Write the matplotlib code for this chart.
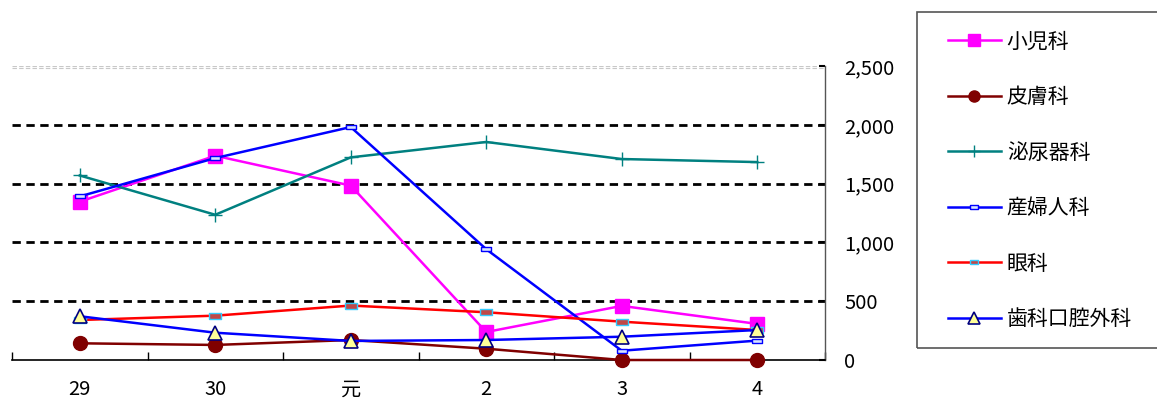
import numpy as np
import matplotlib
matplotlib.use("Agg")
import matplotlib.pyplot as plt
from matplotlib.patches import Rectangle
from matplotlib.ticker import FuncFormatter

plt.rcParams['font.family'] = ['Noto Sans CJK JP', 'DejaVu Sans']

years = ['29', '30', '元', '2', '3', '4']

shoni = [1346, 1737, 1483, 238, 460, 307]        # 小児科
hifu = [142, 128, 170, 96, 0, 0]                 # 皮膚科
hinyoki = [1569, 1235, 1723, 1854, 1709, 1683]   # 泌尿器科
sanfujin = [1391, 1717, 1981, 942, 79, 165]      # 産婦人科
ganka = [340, 377, 463, 406, 326, 255]           # 眼科
shika = [372, 232, 162, 170, 198, 255]           # 歯科口腔外科

x = np.arange(len(years))
rect = [(-1, -0.5), (1, -0.5), (1, 0.5), (-1, 0.5), (-1, -0.5)]

fig = plt.figure(figsize=(11.57, 4.03), dpi=100)
ax = fig.add_axes([12 / 1157, 43 / 403, 813 / 1157, 294 / 403])

common = dict(lw=1.8, clip_on=False, zorder=3)
lines = []
lines += ax.plot(x, shoni, color='#FF00FF', marker='s', ms=10.5,
                 label='小児科', **common)
lines += ax.plot(x, hifu, color='#800000', marker='o', ms=10,
                 label='皮膚科', **common)
lines += ax.plot(x, hinyoki, color='#008080', marker='+', ms=10,
                 mew=1.0, label='泌尿器科', **common)
lines += ax.plot(x, sanfujin, color='#0000FF', marker=rect, ms=7,
                 mfc='#d8e4ff', mec='#0000FF', mew=1.0, label='産婦人科', **common)
lines += ax.plot(x, ganka, color='#FF0000', marker=rect, ms=8,
                 mfc='#c04848', mec='#33CCFF', mew=1.0, label='眼科', **common)
lines += ax.plot(x, shika, color='#0000FF', marker='^', ms=10,
                 mfc='#FFFF99', mec='#000080', mew=1.2, label='歯科口腔外科', **common)

ax.set_xlim(-0.5, len(years) - 0.5)
ax.set_ylim(0, 2500)

# horizontal reference lines
for v in [500, 1000, 1500, 2000]:
    ax.axhline(v, color='black', ls=(0, (3, 2)), lw=2, zorder=1)
ax.axhline(2500, color='#c8c8c8', ls=(0, (4, 2)), lw=0.8, zorder=1)
ax.plot([0, 1], [0.993, 0.993], transform=ax.transAxes, color='#c8c8c8',
        ls=(0, (4, 2)), lw=0.8, zorder=1)

for s in ['left', 'top']:
    ax.spines[s].set_visible(False)
ax.spines['bottom'].set_color('black')
ax.spines['bottom'].set_linewidth(1.2)
ax.spines['right'].set_color('#555555')
ax.spines['right'].set_linewidth(1.0)

ax.set_xticks(x)
ax.set_xticklabels(years)
ax.set_xticks(np.arange(-0.5, len(years)), minor=True)
ax.tick_params(axis='x', which='major', length=0, pad=14, labelsize=14.5)
ax.tick_params(axis='x', which='minor', direction='in', length=6, width=1)

ax.yaxis.tick_right()
ax.set_yticks(np.arange(0, 2501, 500))
ax.yaxis.set_major_formatter(FuncFormatter(lambda v, p: f'{int(v):,}'))
ax.tick_params(axis='y', direction='in', length=4, width=1.5, pad=14, labelsize=14.5)

# legend box running off the right edge
fig.patches.append(Rectangle((917 / 1157, 55 / 403), 0.3, 336 / 403,
                             transform=fig.transFigure, fill=False,
                             edgecolor='#555555', lw=1.2))
fig.legend(handles=lines, loc='upper left',
           bbox_to_anchor=(938 / 1157, 1 - 20 / 403), frameon=False,
           fontsize=15, handlelength=2.5, handletextpad=0.3, markerscale=0.8,
           labelspacing=1.61, borderpad=0)

fig.savefig('out.png', dpi=100)
